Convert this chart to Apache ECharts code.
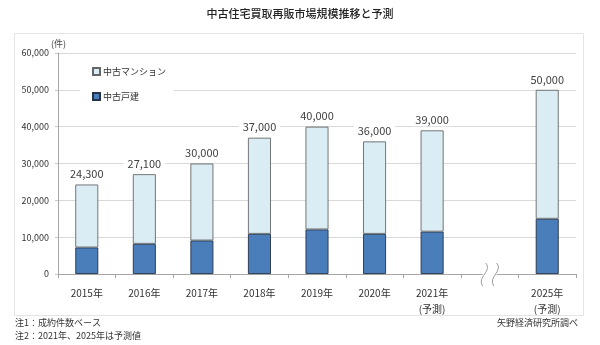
<!DOCTYPE html>
<html>
<head>
<meta charset="utf-8">
<script src="https://cdn.jsdelivr.net/npm/echarts@6/dist/echarts.min.js"></script>
<style>html,body{margin:0;padding:0;background:#fff;}#c{width:600px;height:345px;}</style>
</head>
<body>
<div id="c"></div>
<script>
const categories = ['2015年', '2016年', '2017年', '2018年', '2019年', '2020年', '2021年\n(予測)', '', '2025年\n(予測)'];
const houseValues = [7200, 8200, 9100, 10900, 12100, 10900, 11500, null, 15000];
const mansionValues = [17100, 18900, 20900, 26100, 27900, 25100, 27500, null, 35000];
const totals = [24300, 27100, 30000, 37000, 40000, 36000, 39000, null, 50000];
const breakCategory = [[7, 0]];
const yTicks = [0, 10000, 20000, 30000, 40000, 50000, 60000];

const FONT = '"Noto Sans CJK JP", "Noto Sans", sans-serif';
const fmt = v => v.toLocaleString('en-US');

const chart = echarts.init(document.getElementById('c'), null, {renderer: 'canvas'});
chart.setOption({
  animation: false,
  backgroundColor: '#fff',
  textStyle: {fontFamily: FONT},
  title: {
    text: '中古住宅買取再販市場規模推移と予測',
    left: 'center', top: 3,
    textStyle: {fontSize: 11, fontWeight: 500, color: '#222', fontFamily: FONT}
  },
  graphic: [
    {type: 'rect', shape: {x: 14.5, y: 33.5, width: 569, height: 282}, style: {fill: 'none', stroke: '#e4e4e4', lineWidth: 1}, z: -10},
    {type: 'text', left: 51, top: 39, style: {text: '(件)', fontSize: 9, fill: '#444', fontFamily: FONT}},
    {type: 'text', left: 15, top: 318, style: {text: '注1：成約件数ベース', fontSize: 9, fill: '#333', fontFamily: FONT}},
    {type: 'text', left: 15, top: 331, style: {text: '注2：2021年、2025年は予測値', fontSize: 9, fill: '#333', fontFamily: FONT}},
    {type: 'text', right: 22, top: 318, style: {text: '矢野経済研究所調べ', fontSize: 9, fill: '#333', fontFamily: FONT}}
  ],
  legend: {
    data: ['中古マンション', '中古戸建'],
    orient: 'vertical',
    left: 80, top: 62,
    padding: [5, 8, 5, 12],
    itemGap: 16,
    itemWidth: 7, itemHeight: 7,
    backgroundColor: '#fff',
    icon: 'rect',
    textStyle: {fontSize: 9, color: '#333', fontFamily: FONT, padding: [0, 0, 0, -2]}
  },
  grid: {left: 58, right: 24, top: 53, bottom: 71, containLabel: false},
  xAxis: {
    type: 'category',
    data: categories,
    axisLine: {lineStyle: {color: '#a6a6a6'}},
    axisTick: {show: true, alignWithLabel: false, length: 4, lineStyle: {color: '#a6a6a6'}},
    axisLabel: {fontSize: 10, color: '#333', margin: 11, lineHeight: 16, fontFamily: FONT, interval: 0}
  },
  yAxis: {
    type: 'value',
    min: 0, max: 60000, interval: 10000,
    axisLine: {show: true, lineStyle: {color: '#a6a6a6'}},
    axisTick: {show: true, length: 3, lineStyle: {color: '#c8c8c8'}},
    splitLine: {lineStyle: {color: '#d9d9d9'}},
    axisLabel: {fontSize: 9, color: '#333', margin: 9, fontFamily: FONT,
      formatter: v => yTicks.includes(v) ? fmt(v) : ''}
  },
  series: [
    {
      name: '中古戸建', type: 'bar', stack: 'total', barWidth: 23,
      data: houseValues,
      itemStyle: {color: '#4a7ebb', borderColor: '#24324a', borderWidth: 0.9}
    },
    {
      name: '中古マンション', type: 'bar', stack: 'total', barWidth: 23,
      data: mansionValues,
      itemStyle: {color: '#daedf4', borderColor: '#666', borderWidth: 0.9},
      label: {
        show: true, position: 'top', distance: 4,
        fontSize: 11, color: '#404040', fontFamily: FONT,
        backgroundColor: '#fff', padding: [1, 4],
        formatter: p => totals[p.dataIndex] == null ? '' : fmt(totals[p.dataIndex])
      }
    },
    {
      type: 'custom', name: 'break', silent: true, z: 10,
      data: breakCategory,
      renderItem: (params, api) => {
        const pt = api.coord([api.value(0), api.value(1)]);
        const x = pt[0] - 6, y = pt[1];
        const wave = dx => ({
          type: 'bezierCurve',
          shape: {x1: x + dx + 2, y1: y - 11, x2: x + dx - 1, y2: y + 12, cpx1: x + dx + 9, cpy1: y - 3, cpx2: x + dx - 7, cpy2: y + 3},
          style: {stroke: '#9a9a9a', fill: 'none', lineWidth: 1}
        });
        return {
          type: 'group',
          children: [
            {type: 'rect', shape: {x: x - 1, y: y - 2, width: 14, height: 4}, style: {fill: '#fff'}},
            wave(0), wave(11)
          ]
        };
      }
    }
  ]
});
</script>
</body>
</html>
